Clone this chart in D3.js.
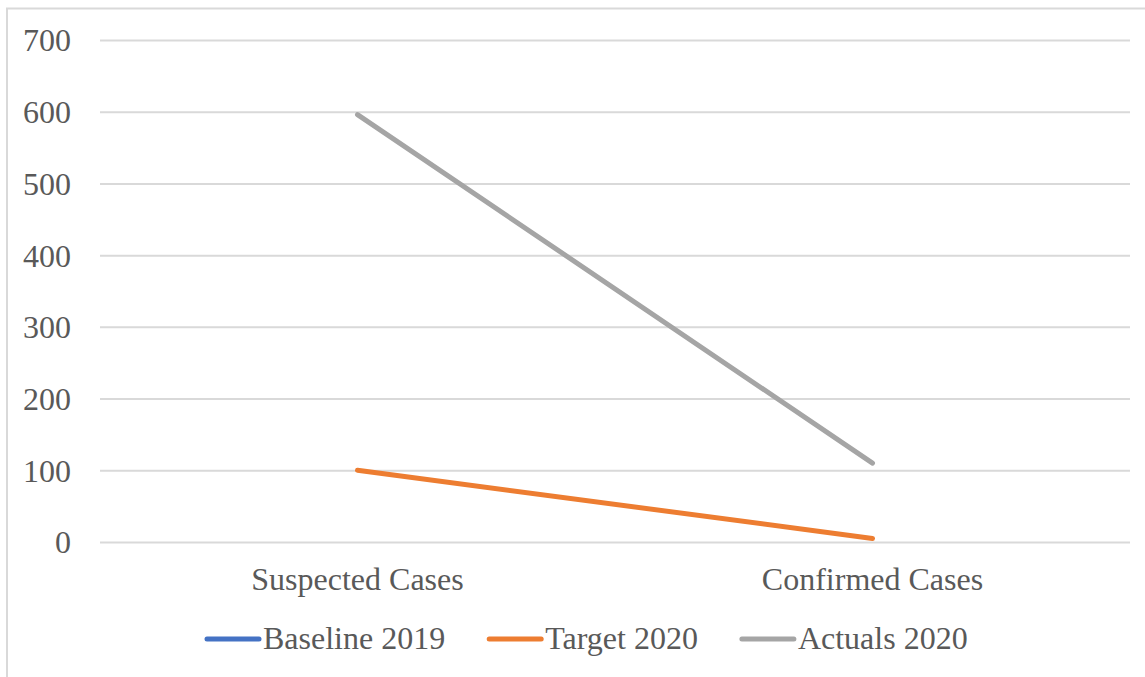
<!DOCTYPE html>
<html lang="en">
<head>
	<meta charset="UTF-8">
	<title>Cases</title>
	<style type="text/css">
	body {
		margin: 0;
		background: #fff;
	}
	.axis .domain {
		stroke: none;
	}
	.axis .tick line {
		stroke: #d9d9d9;
		stroke-width: 2;
	}
	</style>
</head>
<body>

</body>
<script src="https://cdn.jsdelivr.net/npm/d3@7"></script>
<script>
var categories = ['Suspected Cases', 'Confirmed Cases']
var seriesNames = ['Baseline 2019', 'Target 2020', 'Actuals 2020']
var baseline2019 = [null, null]
var target2020 = [100, 5]
var actuals2020 = [596, 110]
var yTicks = [0, 100, 200, 300, 400, 500, 600, 700]
var colors = ['#4472c4', '#ed7d31', '#a5a5a5']

var series = [baseline2019, target2020, actuals2020]
var FONT = "'Liberation Serif', 'Times New Roman', serif"
var FS = '32px'

var W = 1145, H = 677
var margin = {top: 40, right: 15, bottom: 135, left: 100},
    width = W - margin.left - margin.right,
    height = 542 - margin.top

var svg = d3.select('body').append('svg')
    .attr('width', W)
    .attr('height', H)
    .style('font-family', FONT)

// chart border
svg.append('rect')
    .attr('x', 7)
    .attr('y', 8.5)
    .attr('width', W + 20)
    .attr('height', H + 20)
    .attr('fill', 'none')
    .attr('stroke', '#d9d9d9')
    .attr('stroke-width', 2)

var g = svg.append('g')
    .attr('transform', 'translate(' + margin.left + ',' + margin.top + ')')

var x = d3.scaleBand()
    .domain(categories)
    .range([0, width])

var y = d3.scaleLinear()
    .domain([0, 700])
    .range([height, 0])

var yAxis = g.append('g')
    .attr('class', 'axis axis--y')
    .call(d3.axisLeft(y).tickValues(yTicks).tickSize(-width).tickPadding(29))
    .attr('font-family', FONT)

yAxis.selectAll('.tick text')
    .attr('font-size', FS)
    .attr('fill', '#595959')
    .attr('dy', '0.34em')

g.append('g')
    .selectAll('text')
    .data(categories)
    .enter()
    .append('text')
    .attr('x', function (d) { return x(d) + x.bandwidth() / 2 })
    .attr('y', height + 48)
    .attr('text-anchor', 'middle')
    .attr('font-size', FS)
    .attr('fill', '#595959')
    .text(function (d) { return d })

var line = d3.line()
    .defined(function (d) { return d != null })
    .x(function (d, i) { return x(categories[i]) + x.bandwidth() / 2 })
    .y(function (d) { return y(d) })

g.append('g').selectAll('path')
    .data(series)
    .enter()
    .append('path')
    .attr('d', line)
    .attr('fill', 'none')
    .attr('stroke', function (d, i) { return colors[i] })
    .attr('stroke-width', 5)
    .attr('stroke-linecap', 'round')
    .attr('stroke-linejoin', 'round')

// legend
var legend = svg.append('g').attr('class', 'legend')
    .attr('transform', 'translate(205,0)')
var lx = 0
var items = legend.selectAll('g')
    .data(seriesNames)
    .enter()
    .append('g')

items.append('line')
    .attr('x1', 2)
    .attr('x2', 54)
    .attr('y1', 0)
    .attr('y2', 0)
    .attr('stroke', function (d, i) { return colors[i] })
    .attr('stroke-width', 5)
    .attr('stroke-linecap', 'round')

items.append('text')
    .attr('x', 58)
    .attr('y', 10)
    .attr('font-size', FS)
    .attr('fill', '#595959')
    .text(function (d) { return d })

items.each(function () {
    var w = this.getBBox().width
    d3.select(this).attr('transform', 'translate(' + lx + ',639)')
    lx += w + 44
})
</script>
</html>
